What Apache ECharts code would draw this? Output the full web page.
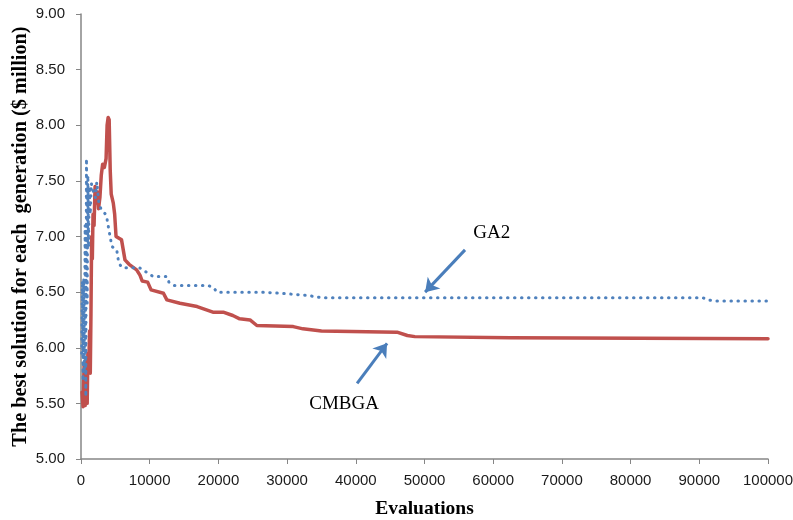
<!DOCTYPE html>
<html>
<head>
<meta charset="utf-8">
<title>Best solution per generation</title>
<script src="https://cdn.jsdelivr.net/npm/echarts@6/dist/echarts.min.js"></script>
<style>
  html, body { margin: 0; padding: 0; background: #fff; }
  #chart { width: 793px; height: 520px; }
</style>
</head>
<body>
<div id="chart"></div>
<script>
// CMBGA: best solution ($ million) per generation against evaluations
const cmbgaEval = [150, 300, 450, 600, 750, 900, 1000, 1100, 1250, 1350, 1450, 1550, 1650, 1750, 1900,
  2050, 2200, 2400, 2550, 2750, 2950, 3150, 3400, 3650, 3800, 3950, 4100, 4250, 4400, 4700, 4900, 5100,
  5900, 6400, 7000, 8100, 8600, 8900, 9700, 10200, 12000, 12500, 14400, 16900, 19200, 20700, 22100,
  23100, 24600, 25600, 30900, 32300, 35000, 46000, 47500, 48600, 62500, 100000];
const cmbgaCost = [5.60, 5.47, 5.85, 5.48, 5.90, 5.50, 5.95, 5.78, 6.15, 5.77, 6.30, 7.00, 6.80, 7.20, 7.10,
  7.45, 7.30, 7.40, 7.25, 7.35, 7.55, 7.65, 7.62, 7.70, 8.00, 8.07, 8.05, 7.60, 7.38, 7.30, 7.20, 7.00,
  6.97, 6.79, 6.75, 6.70, 6.65, 6.60, 6.59, 6.52, 6.49, 6.43, 6.40, 6.37, 6.32, 6.32, 6.29,
  6.26, 6.25, 6.20, 6.19, 6.17, 6.15, 6.14, 6.11, 6.10, 6.09, 6.08];

// GA2: best solution ($ million) per generation against evaluations
const ga2Eval = [100, 200, 300, 400, 500, 600, 700, 800, 900, 1000, 1100, 1200, 1350, 1500, 1800, 2100,
  2300, 2600, 2900, 3300, 3700, 4000, 4500, 5200, 5500, 6000, 7000, 8500, 9500, 10500, 12500, 12800,
  13500, 18500, 19300, 19800, 26000, 29000, 33000, 35000, 90500, 91200, 92500, 100000];
const ga2Cost = [5.95, 6.60, 5.70, 6.62, 5.80, 7.10, 5.56, 7.70, 6.40, 7.55, 6.90, 7.45, 7.20, 7.48, 7.40, 7.35,
  7.49, 7.30, 7.25, 7.22, 7.19, 7.08, 6.91, 6.88, 6.76, 6.72, 6.72, 6.72, 6.68, 6.64, 6.64, 6.59,
  6.56, 6.56, 6.54, 6.50, 6.50, 6.49, 6.47, 6.45, 6.45, 6.43, 6.42, 6.42];

// Axis ranges and tick steps
const xRange = [0, 100000, 10000];
const yRange = [5, 9, 0.5];

// Callouts: label anchor and arrow (tail -> head) in data units
const ga2Label = [59800, 7.03];
const ga2Arrow = [[55900, 6.88], [50090, 6.50]];
const cmbgaLabel = [38300, 5.49];
const cmbgaArrow = [[40190, 5.68], [44550, 6.04]];

const zip = (xs, ys) => xs.map((x, i) => [x, ys[i]]);

const serif = '"Liberation Serif", "Times New Roman", serif';
const sans = '"Liberation Sans", Arial, sans-serif';
const arrowColor = '#4a7ebb';

function callout(label, arrow, text) {
  return {
    markPoint: {
      symbol: 'circle', symbolSize: 1, silent: true, animation: false,
      itemStyle: { color: 'rgba(0,0,0,0)' },
      label: { show: true, formatter: text, fontFamily: serif, fontSize: 19, color: '#000',
               position: 'inside' },
      data: [{ coord: label }]
    },
    markLine: {
      silent: true, animation: false,
      symbol: ['none', 'arrow'], symbolSize: 13,
      lineStyle: { color: arrowColor, width: 3, type: 'solid' },
      itemStyle: { color: arrowColor },
      label: { show: false },
      emphasis: { disabled: true },
      data: [[{ coord: arrow[0] }, { coord: arrow[1] }]]
    }
  };
}

const chart = echarts.init(document.getElementById('chart'), null, { renderer: 'canvas' });
chart.setOption({
  animation: false,
  backgroundColor: '#fff',
  grid: { left: 81, right: 25, top: 14, bottom: 61, containLabel: false, outerBoundsMode: 'none' },
  xAxis: {
    type: 'value', min: xRange[0], max: xRange[1], interval: xRange[2],
    name: 'Evaluations', nameLocation: 'middle', nameGap: 40, nameMoveOverlap: false,
    nameTextStyle: { fontFamily: serif, fontWeight: 'bold', fontSize: 19.5, color: '#000' },
    axisLine: { show: true, lineStyle: { color: '#868686', width: 1.5 } },
    axisTick: { show: true, length: 5, lineStyle: { color: '#868686' } },
    axisLabel: { fontFamily: sans, fontSize: 15, color: '#1a1a1a', margin: 14,
                 formatter: v => String(v) },
    splitLine: { show: false }
  },
  yAxis: {
    type: 'value', min: yRange[0], max: yRange[1], interval: yRange[2],
    name: 'The best solution for each  generation ($ million)', nameLocation: 'middle', nameGap: 50,
    nameMoveOverlap: false,
    nameTextStyle: { fontFamily: serif, fontWeight: 'bold', fontSize: 20.3, color: '#000' },
    axisLine: { show: true, lineStyle: { color: '#868686', width: 1.5 } },
    axisTick: { show: true, length: 5, lineStyle: { color: '#868686' } },
    axisLabel: { fontFamily: sans, fontSize: 15, color: '#1a1a1a', margin: 16,
                 formatter: v => v.toFixed(2) },
    splitLine: { show: false }
  },
  series: [
    Object.assign({
      name: 'GA2', type: 'line', data: zip(ga2Eval, ga2Cost), showSymbol: false,
      lineStyle: { color: '#4f81bd', width: 3, type: [0.5, 6.5], cap: 'round', join: 'round' },
      z: 3
    }, callout(ga2Label, ga2Arrow, 'GA2')),
    Object.assign({
      name: 'CMBGA', type: 'line', data: zip(cmbgaEval, cmbgaCost), showSymbol: false,
      lineStyle: { color: '#c0504d', width: 3.5, cap: 'round', join: 'round' },
      z: 2
    }, callout(cmbgaLabel, cmbgaArrow, 'CMBGA'))
  ]
});
</script>
</body>
</html>
